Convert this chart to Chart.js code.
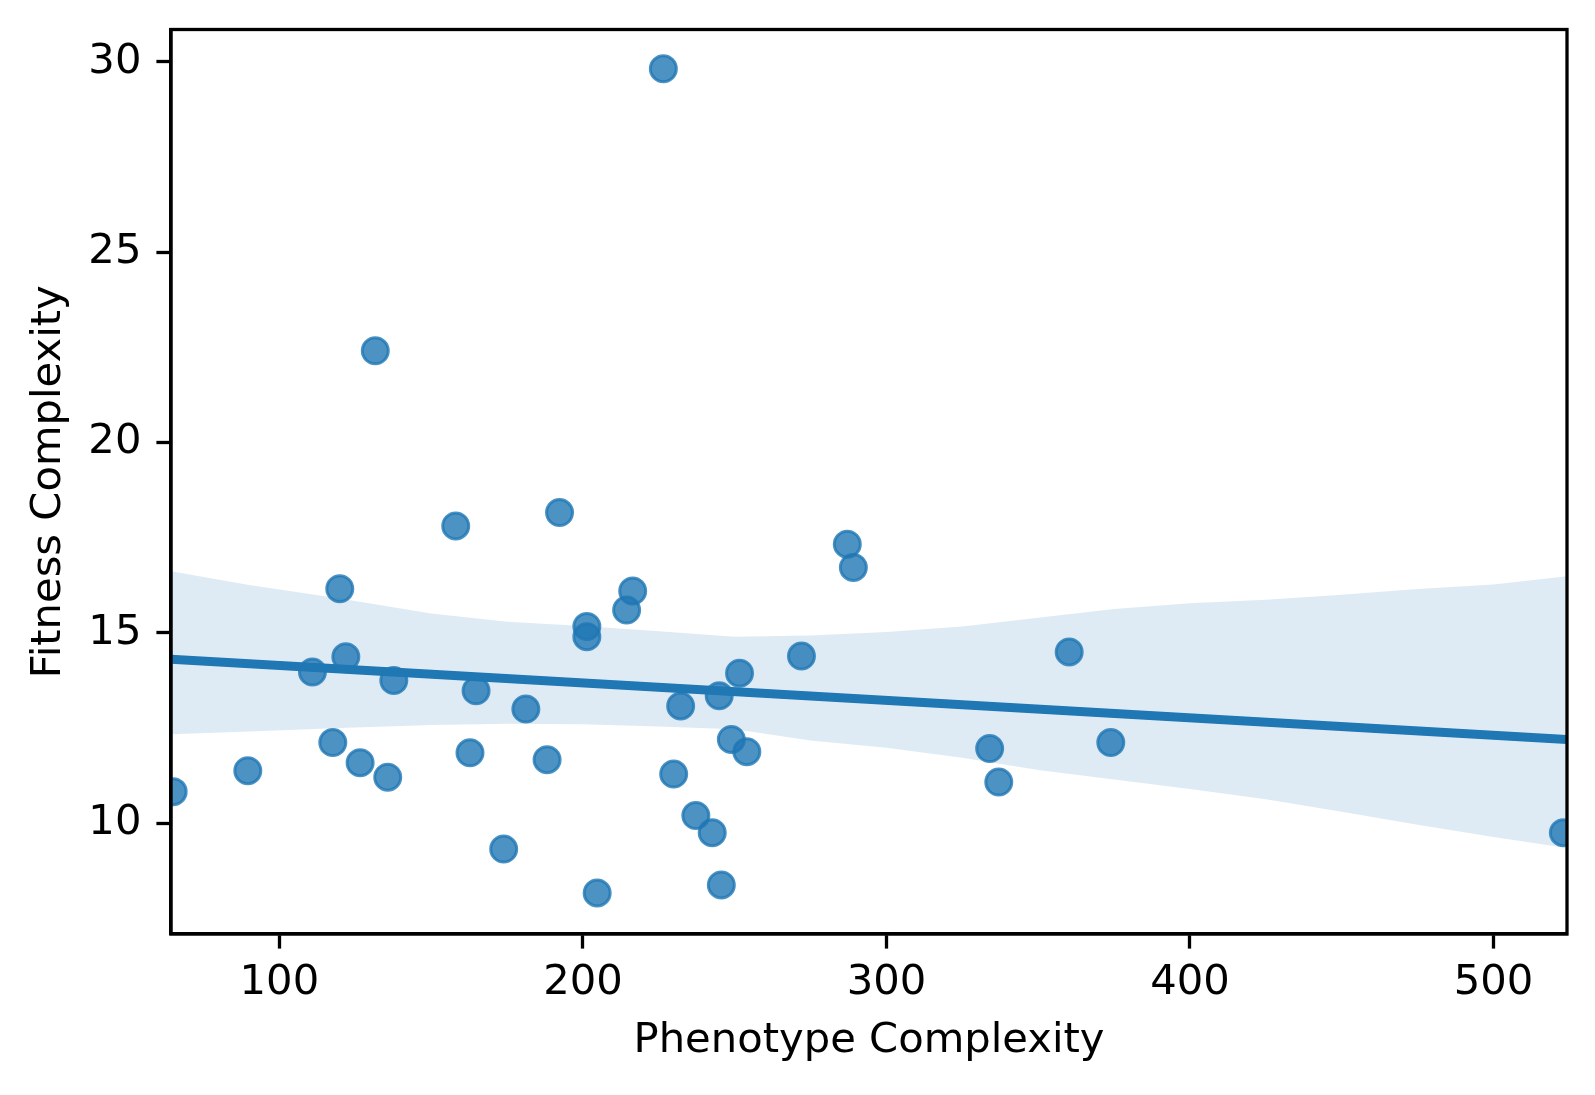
<!DOCTYPE html>
<html>
<head>
<meta charset="utf-8">
<script src="https://cdn.jsdelivr.net/npm/chart.js@4.4.1/dist/chart.umd.min.js"></script>
<style>
  html, body { margin: 0; padding: 0; background: #fff; }
  canvas { display: block; }
</style>
</head>
<body>
<canvas id="regChart" width="1595" height="1095"></canvas>
<script>
// scatter points
const phenotype = [65, 89.6, 110.9, 117.6, 119.9, 121.9, 126.6, 131.6, 135.7, 137.7,
  158.1, 162.8, 164.8, 173.9, 181.2, 188.2, 192.3, 201.3, 201.3, 204.7,
  214.4, 216.4, 226.5, 229.9, 232.2, 237.2, 242.6, 244.9, 245.6, 248.9,
  251.6, 254, 272, 287.1, 289.1, 334, 337, 360.2, 373.9, 523];
const fitness = [10.83, 11.38, 13.97, 12.12, 16.16, 14.37, 11.59, 22.41, 11.21, 13.75,
  17.81, 11.85, 13.48, 9.32, 13.0, 11.67, 18.16, 15.17, 14.9, 8.17,
  15.6, 16.1, 29.82, 11.29, 13.08, 10.2, 9.75, 13.35, 8.38, 12.2,
  13.94, 11.88, 14.39, 17.33, 16.72, 11.96, 11.08, 14.5, 12.12, 9.75];

// regression line ends
const fitX = [64.3, 524.2];
const fitY = [14.31, 12.2];

// confidence band
const bandX = [64.3, 90, 120, 150, 175, 200, 225, 250, 275, 300,
  325, 350, 375, 400, 425, 450, 475, 500, 524.2];
const bandUpper = [16.62, 16.26, 15.9, 15.51, 15.29, 15.18, 15.04, 14.9, 14.93, 15.02,
  15.17, 15.4, 15.63, 15.78, 15.87, 16.0, 16.15, 16.27, 16.49];
const bandLower = [12.34, 12.41, 12.5, 12.58, 12.61, 12.6, 12.54, 12.47, 12.17, 11.98,
  11.72, 11.4, 11.15, 10.9, 10.63, 10.3, 9.96, 9.64, 9.35];

const xTicks = [100, 200, 300, 400, 500];
const yTicks = [10, 15, 20, 25, 30];

const blue = '#1f77b4';
const fontFamily = "'DejaVu Sans', sans-serif";

const toPoints = (xs, ys) => xs.map((x, i) => ({ x: x, y: ys[i] }));

// matplotlib style box around the axes
const boxPlugin = {
  id: 'box',
  afterDraw(chart) {
    const { ctx, chartArea: a } = chart;
    ctx.save();
    ctx.strokeStyle = '#000';
    ctx.lineWidth = 3.3;
    ctx.strokeRect(a.left, a.top, a.right - a.left, a.bottom - a.top);
    ctx.restore();
  },
};

new Chart(document.getElementById('regChart'), {
  type: 'scatter',
  data: {
    datasets: [
      {
        data: toPoints(phenotype, fitness),
        backgroundColor: 'rgba(31,119,180,0.8)',
        borderColor: 'rgba(31,119,180,0.8)',
        borderWidth: 3,
        pointRadius: 13,
        clip: 0,
        order: 3,
      },
      {
        data: toPoints(bandX, bandUpper),
        showLine: true,
        borderWidth: 0,
        pointRadius: 0,
        fill: false,
        order: 2,
      },
      {
        data: toPoints(bandX, bandLower),
        showLine: true,
        borderWidth: 0,
        pointRadius: 0,
        fill: '-1',
        backgroundColor: 'rgba(31,119,180,0.15)',
        order: 2,
      },
      {
        data: toPoints(fitX, fitY),
        showLine: true,
        borderColor: blue,
        borderWidth: 9,
        pointRadius: 0,
        clip: 0,
        order: 1,
      },
    ],
  },
  options: {
    responsive: false,
    devicePixelRatio: 1,
    animation: false,
    layout: { padding: { top: 29.5, right: 28, left: 0, bottom: 0 } },
    plugins: { legend: { display: false }, tooltip: { enabled: false } },
    scales: {
      x: {
        type: 'linear',
        min: 64.3,
        max: 524.2,
        afterBuildTicks: (scale) => { scale.ticks = xTicks.map(v => ({ value: v })); },
        afterFit: (scale) => {
          scale.height = 161;
          scale.paddingLeft = 0;
          scale.paddingRight = 0;
        },
        grid: { drawOnChartArea: false, tickLength: 14.6, tickWidth: 3.3, tickColor: '#000' },
        border: { color: '#000', width: 3.3 },
        ticks: { color: '#000', padding: 10, font: { family: fontFamily, size: 41.7 } },
        title: {
          display: true,
          text: 'Phenotype Complexity',
          color: '#000',
          font: { family: fontFamily, size: 41.7 },
          padding: { top: 0, bottom: 29 },
        },
      },
      y: {
        type: 'linear',
        min: 7.09,
        max: 30.85,
        afterBuildTicks: (scale) => { scale.ticks = yTicks.map(v => ({ value: v })); },
        afterFit: (scale) => {
          scale.width = 171;
          scale.paddingTop = 0;
          scale.paddingBottom = 0;
        },
        grid: { drawOnChartArea: false, tickLength: 14.6, tickWidth: 3.3, tickColor: '#000' },
        border: { color: '#000', width: 3.3 },
        ticks: { color: '#000', padding: 15, font: { family: fontFamily, size: 41.7 } },
        title: {
          display: true,
          text: 'Fitness Complexity',
          color: '#000',
          font: { family: fontFamily, size: 41.7 },
          padding: { top: 24, bottom: 0 },
        },
      },
    },
  },
  plugins: [boxPlugin],
});
</script>
</body>
</html>
